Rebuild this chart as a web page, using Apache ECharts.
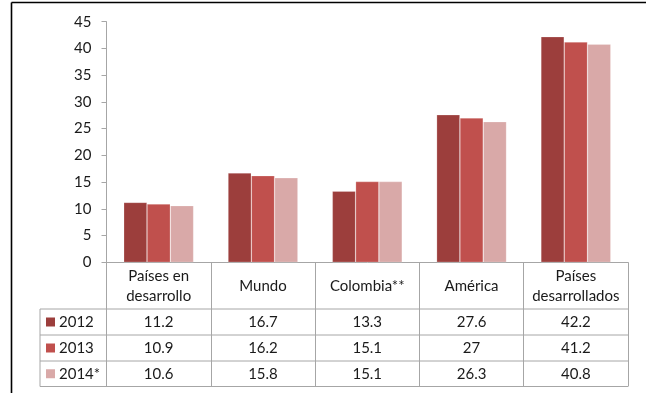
<!DOCTYPE html>
<html>
<head>
<meta charset="utf-8">
<style>
  html, body { margin: 0; padding: 0; background: #fff; }
  #chart { width: 646px; height: 393px; }
</style>
<script src="https://cdn.jsdelivr.net/npm/echarts@6/dist/echarts.min.js"></script>
</head>
<body>
<div id="chart"></div>
<script>
// Categories and yearly values
const categories = ['Países en\ndesarrollo', 'Mundo', 'Colombia**', 'América', 'Países\ndesarrollados'];
const seriesNames = ['2012', '2013', '2014*'];
const values2012 = [11.2, 16.7, 13.3, 27.6, 42.2];
const values2013 = [10.9, 16.2, 15.1, 27, 41.2];
const values2014 = [10.6, 15.8, 15.1, 26.3, 40.8];
const yTicks = [0, 5, 10, 15, 20, 25, 30, 35, 40, 45];

const seriesValues = [values2012, values2013, values2014];
const colors = ['#9c3e3c', '#c0504d', '#d9a9a8'];
const FONT = 'Lato, "Open Sans", sans-serif';
const FONT_SIZE = 15;
const TEXT = '#1a1a1a';
const GRID_LINE = '#a6a6a6';

const grid = { left: 106.5, right: 18, top: 21.7, bottom: 130.7 };
const rowTops = [309, 335, 361, 386.5];
const tableLeft = 40;

const chart = echarts.init(document.getElementById('chart'), null, { renderer: 'canvas' });

const option = {
  animation: false,
  backgroundColor: '#fff',
  textStyle: { fontFamily: FONT },
  grid: grid,
  xAxis: {
    type: 'category',
    data: categories,
    axisLine: { show: true, lineStyle: { color: GRID_LINE, width: 1 } },
    // boundary ticks run down through the data table as column dividers
    axisTick: { show: true, alignWithLabel: false, length: rowTops[3] - 262.3, lineStyle: { color: GRID_LINE, width: 1 } },
    axisLabel: {
      interval: 0,
      margin: 24,
      verticalAlign: 'middle',
      lineHeight: 20,
      fontSize: FONT_SIZE,
      color: TEXT,
      fontFamily: FONT
    }
  },
  yAxis: {
    type: 'value',
    min: yTicks[0],
    max: yTicks[yTicks.length - 1],
    interval: 5,
    axisLine: { show: true, lineStyle: { color: GRID_LINE, width: 1 } },
    axisTick: { show: true, length: 5, lineStyle: { color: GRID_LINE } },
    splitLine: { show: false },
    axisLabel: { margin: 15, fontSize: FONT_SIZE, color: TEXT, fontFamily: FONT }
  },
  series: seriesNames.map((name, i) => ({
    name: name,
    type: 'bar',
    data: seriesValues[i],
    barGap: '0%',
    barCategoryGap: '33%',
    itemStyle: { color: colors[i], borderColor: 'rgba(255,255,255,0.35)', borderWidth: 0.6 }
  }))
};

chart.setOption(option);

// Data table under the axis: rows of values, legend keys and cell borders
function buildTable() {
  const els = [];
  const right = 646 - grid.right;
  // horizontal row lines
  rowTops.forEach((y) => {
    els.push({ type: 'line', shape: { x1: tableLeft, y1: y, x2: right, y2: y }, style: { stroke: GRID_LINE, lineWidth: 1 }, silent: true });
  });
  // left edge of the legend column
  els.push({ type: 'line', shape: { x1: tableLeft, y1: rowTops[0], x2: tableLeft, y2: rowTops[3] }, style: { stroke: GRID_LINE, lineWidth: 1 } });

  seriesNames.forEach((name, r) => {
    const yc = (rowTops[r] + rowTops[r + 1]) / 2;
    els.push({ type: 'rect', shape: { x: 46, y: yc - 4.5, width: 9, height: 9 }, style: { fill: colors[r] } });
    els.push({ type: 'text', x: 59, y: yc, style: { text: name, fontSize: FONT_SIZE, fontFamily: FONT, fill: TEXT, verticalAlign: 'middle', align: 'left' } });
    seriesValues[r].forEach((v, c) => {
      const px = chart.convertToPixel({ xAxisIndex: 0 }, c);
      els.push({ type: 'text', x: px, y: yc, style: { text: String(v), fontSize: FONT_SIZE, fontFamily: FONT, fill: TEXT, verticalAlign: 'middle', align: 'center' } });
    });
  });

  // outer frame lines (top and left)
  els.push({ type: 'line', shape: { x1: 11.5, y1: 2.5, x2: 646, y2: 2.5 }, style: { stroke: '#000', lineWidth: 1.6 } });
  els.push({ type: 'line', shape: { x1: 11.5, y1: 2.5, x2: 11.5, y2: 393 }, style: { stroke: '#000', lineWidth: 1.6 } });
  return els;
}

chart.setOption({ graphic: { elements: buildTable() } });
</script>
</body>
</html>
